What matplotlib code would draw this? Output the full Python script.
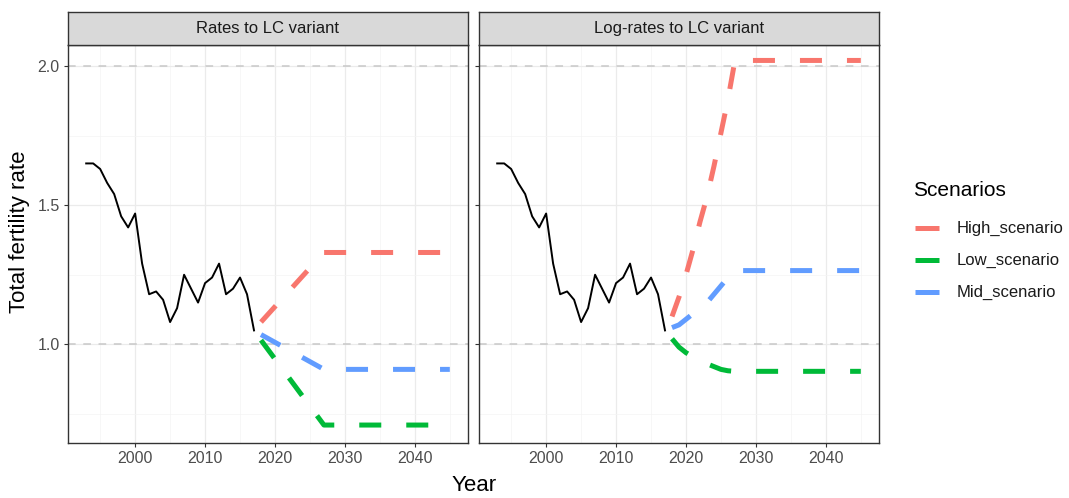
import numpy as np
import matplotlib.pyplot as plt
from matplotlib.lines import Line2D

plt.rcParams['font.family'] = ['Liberation Sans', 'DejaVu Sans']

# observed total fertility rate
obs_years = list(range(1993, 2018))
obs_tfr = [1.65, 1.65, 1.63, 1.58, 1.54, 1.46, 1.42, 1.47, 1.29, 1.18,
           1.19, 1.16, 1.08, 1.13, 1.25, 1.20, 1.15, 1.22, 1.24, 1.29,
           1.18, 1.20, 1.24, 1.18, 1.05]

# projections, rates to LC variant (linear path, then constant)
rate_years = [2018, 2027, 2045]
rate_high = [1.08, 1.33, 1.33]
rate_low = [1.015, 0.71, 0.71]
rate_mid = [1.035, 0.91, 0.91]

# projections, log-rates to LC variant
log_years = list(range(2018, 2028)) + [2045]
log_high = [1.10, 1.17, 1.25, 1.34, 1.44, 1.53, 1.64, 1.76, 1.88, 2.02, 2.02]
log_low = [1.02, 0.99, 0.97, 0.955, 0.94, 0.93, 0.92, 0.91, 0.905, 0.903, 0.903]
log_mid = [1.06, 1.07, 1.09, 1.11, 1.13, 1.15, 1.18, 1.21, 1.24, 1.265, 1.265]

panel_titles = ['Rates to LC variant', 'Log-rates to LC variant']
scenario_names = ['High_scenario', 'Low_scenario', 'Mid_scenario']
scenario_colors = ['#F8766D', '#00BA38', '#619CFF']

W, H = 1069, 498
fig = plt.figure(figsize=(W / 100, H / 100), dpi=100)

panels = [(68, 468), (479, 879)]
top, bottom = 45, 443
projections = [
    (rate_years, [rate_high, rate_low, rate_mid]),
    (log_years, [log_high, log_low, log_mid]),
]

dash = (0, (4.4, 5.0))
for i, ((x0, x1), title, (pyears, series)) in enumerate(zip(panels, panel_titles, projections)):
    ax = fig.add_axes([x0 / W, 1 - bottom / H, (x1 - x0) / W, (bottom - top) / H])
    ax.set_xlim(1990.4, 2047.6)
    ax.set_ylim(0.6455, 2.0755)
    ax.set_xticks([2000, 2010, 2020, 2030, 2040])
    ax.set_xticks([1995, 2005, 2015, 2025, 2035, 2045], minor=True)
    ax.set_yticks([1.0, 1.5, 2.0])
    ax.set_yticks([0.75, 1.25, 1.75], minor=True)
    ax.grid(which='major', color='#EBEBEB', lw=0.9)
    ax.grid(which='minor', color='#F4F4F4', lw=0.5)
    ax.set_axisbelow(True)
    for s in ax.spines.values():
        s.set_color('#333333')
        s.set_linewidth(1.0)
    ax.tick_params(which='major', length=3, color='#333333', labelsize=11.5,
                   labelcolor='#4D4D4D', pad=3)
    ax.tick_params(which='minor', length=0)
    if i == 1:
        ax.tick_params(axis='y', labelleft=False)
    else:
        ax.set_yticklabels(['1.0', '1.5', '2.0'])

    for yv in (1.0, 2.0):
        ax.axhline(yv, color='#C8C8C8', lw=1.1, ls=(0, (5, 5)), zorder=1)

    ax.plot(obs_years, obs_tfr, color='black', lw=1.4, zorder=3)
    for vals, col in zip(series, scenario_colors):
        ax.plot(pyears, vals, color=col, lw=3.6, ls=dash, dash_capstyle='butt',
                zorder=4)

    # facet strip
    strip = fig.add_axes([x0 / W, 1 - top / H, (x1 - x0) / W, 33 / H])
    strip.set_xticks([])
    strip.set_yticks([])
    strip.set_facecolor('#D9D9D9')
    for s in strip.spines.values():
        s.set_color('#333333')
        s.set_linewidth(1.0)
    strip.text(0.5, 0.5, title, ha='center', va='center', fontsize=12,
               color='#1A1A1A', transform=strip.transAxes)

fig.text(474 / W, 1 - 485 / H, 'Year', ha='center', va='center', fontsize=16)
fig.text(20 / W, 1 - 232 / H, 'Total fertility rate', ha='center', va='center',
         rotation=90, fontsize=16)

# legend drawn by hand in figure pixels
fig.text(913 / W, 1 - 190 / H, 'Scenarios', ha='left', va='center', fontsize=15)
for k, (name, col) in enumerate(zip(scenario_names, scenario_colors)):
    yk = 1 - (228 + 32 * k) / H
    fig.add_artist(Line2D([915 / W, 939 / W], [yk, yk], color=col, lw=3.6,
                          solid_capstyle='butt', transform=fig.transFigure))
    fig.text(957 / W, yk, name, ha='left', va='center', fontsize=12,
             color='#1A1A1A')

fig.savefig('out.png', dpi=100)
